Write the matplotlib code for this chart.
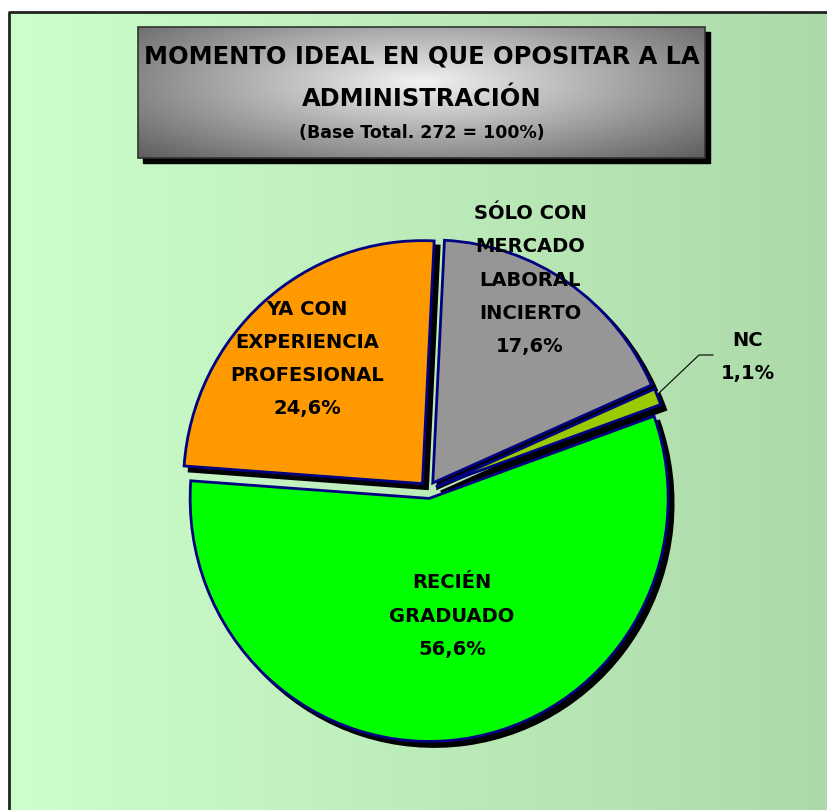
import matplotlib
matplotlib.use("Agg")
import matplotlib.pyplot as plt
import numpy as np
from matplotlib.patches import Rectangle

# datos
categorias = ["NC", "SÓLO CON\nMERCADO\nLABORAL\nINCIERTO", "YA CON\nEXPERIENCIA\nPROFESIONAL", "RECIÉN\nGRADUADO"]
porcentajes = [1.1, 17.6, 24.6, 56.6]
colores = ["#99CC00", "#969696", "#FF9900", "#00FF00"]
titulo = "MOMENTO IDEAL EN QUE OPOSITAR A LA\nADMINISTRACIÓN"
subtitulo = "(Base Total. 272 = 100%)"

W, H = 828, 810
plt.rcParams['font.family'] = ['DejaVu Sans']
fig = plt.figure(figsize=(W / 100, H / 100), dpi=100)

# fondo en coordenadas de pixel
bg = fig.add_axes([0, 0, 1, 1])
bg.set_xlim(0, W)
bg.set_ylim(H, 0)
bg.axis('off')
bg.set_zorder(0)
grad = np.linspace(0, 1, 256)[None, :]
c0 = np.array([204, 255, 204]) / 255
c1 = np.array([173, 217, 169]) / 255
img = c0[None, None, :] * (1 - grad[..., None]) + c1[None, None, :] * grad[..., None]
bg.imshow(img, extent=[9, W + 5, H + 5, 12], aspect='auto', zorder=0)
bg.plot([9, 9, W + 5], [H + 5, 12, 12], color='#222222', lw=2, zorder=1)

# caja del titulo
bx0, bx1, by0, by1 = 138, 705, 27, 158
bg.add_patch(Rectangle((bx0 + 5, by0 + 5), bx1 - bx0, by1 - by0, color='black', zorder=2))
yy, xx = np.mgrid[0:1:200j, 0:1:400j]
r = np.sqrt(((xx - 0.5) / 0.5) ** 2 + ((yy - 0.42) / 0.6) ** 2)
gris = np.clip(0.95 - 0.42 * r, 0.38, 1)
bg.imshow(gris, cmap='gray', vmin=0, vmax=1, extent=[bx0, bx1, by1, by0], aspect='auto', zorder=3)
bg.add_patch(Rectangle((bx0, by0), bx1 - bx0, by1 - by0, fill=False, ec='#333333', lw=1.2, zorder=4))
bg.text((bx0 + bx1) / 2, 78, titulo, ha='center', va='center', fontsize=17.4,
        fontweight='bold', linespacing=2.0, zorder=5)
bg.text((bx0 + bx1) / 2, 133, subtitulo, ha='center', va='center', fontsize=12.5,
        fontweight='bold', zorder=5)

# tarta (ligeramente eliptica como en el original)
cx, cy, rx, ry = 428, 490, 239, 243
m = 1.1
ax = fig.add_axes([(cx - m * rx) / W, 1 - (cy + m * ry) / H, 2 * m * rx / W, 2 * m * ry / H])
ax.set_zorder(1)
explode = [0.035] * len(porcentajes)
sh = 5 / rx
ax.pie(porcentajes, colors=['black'] * 4, startangle=19.8, explode=explode,
       center=(sh, -sh), wedgeprops=dict(ec='black', lw=2), frame=True)
ax.pie(porcentajes, colors=colores, startangle=19.8, explode=explode,
       wedgeprops=dict(ec='#000080', lw=2), frame=True)
ax.set_aspect('auto')
ax.set_xlim(-m, m)
ax.set_ylim(-m, m)
ax.axis('off')

# etiquetas encima de la tarta
lab = fig.add_axes([0, 0, 1, 1])
lab.set_xlim(0, W)
lab.set_ylim(H, 0)
lab.axis('off')
lab.set_zorder(2)
etiquetas = [f"{c}\n{p:.1f}%".replace('.', ',') for c, p in zip(categorias, porcentajes)]
pos = [(748, 357), (530, 280), (307, 359), (452, 616)]
kw = dict(ha='center', va='center', fontsize=14, fontweight='bold', linespacing=1.95)
for (x, y), t in zip(pos, etiquetas):
    lab.text(x, y, t, **kw)
lab.plot([659, 699, 713], [393, 355, 355], color='black', lw=0.8)

fig.savefig("out.png", dpi=100)
